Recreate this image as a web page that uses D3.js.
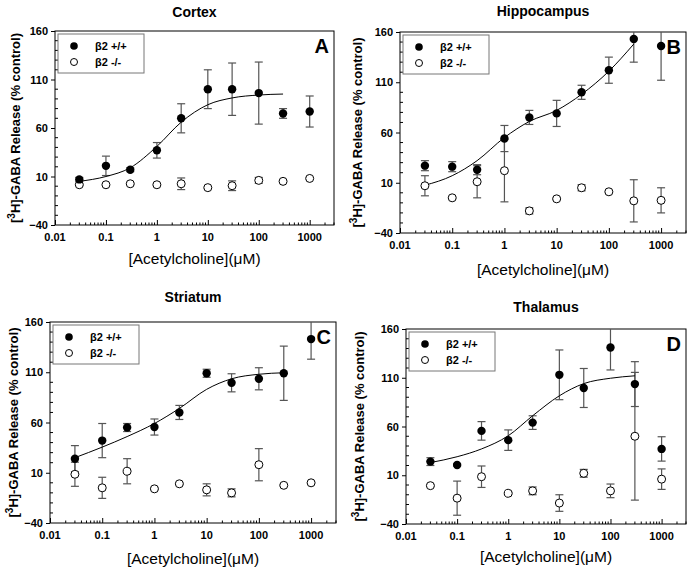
<!DOCTYPE html>
<html>
<head>
<meta charset="utf-8">
<script src="https://cdn.jsdelivr.net/npm/d3@7"></script>
<style>
  body { margin: 0; background: #fff; }
  svg text { font-family: Arial, "Liberation Sans", Helvetica, sans-serif; }
</style>
</head>
<body>
<div id="chart"></div>
<script>
// acetylcholine concentrations (µM)
var conc = [0.03, 0.1, 0.3, 1, 3, 10, 30, 100, 300, 1000];
var fitConc = [0.03, 0.1, 0.3, 1, 3, 10, 30, 100, 300];
var yTicks = [-40, 10, 60, 110, 160];
var xTicks = [0.01, 0.1, 1, 10, 100, 1000];

// Cortex
var cortexWT = [7, 21, 17, 37, 70, 100, 100, 96, 75, 77];
var cortexWTErr = [2, 10, 2, 8, 15, 20, 27, 32, 5, 16];
var cortexKO = [1.5, 1.5, 2.5, 1.5, 2.5, -1.5, 0.5, 6, 5, 8];
var cortexKOErr = [1, 1, 1, 1, 6, 1, 5, 3, 1, 1];
var cortexFit = [5, 10, 19, 41, 66, 84, 91, 94, 95];

// Hippocampus
var hippoWT = [27, 26, 23, 54, 75, 79, 100, 122, 153, 146];
var hippoWTErr = [5, 5, 5, 13, 7, 13, 7, 13, 23, 34];
var hippoKO = [7, -5, 11, 22, -18, -6, 5, 1, -8, -7.5];
var hippoKOErr = [10, 1, 16, 31, 3, 1, 3, 1, 21, 12.5];
var hippoFit = [7.5, 17, 32, 55, 71, 82, 98, 121, 148];

// Striatum
var striWT = [24, 42, 55, 55.5, 70, 109, 99.5, 103.5, 109, 143];
var striWTErr = [13, 17, 4, 8, 7, 4, 9, 11, 27, 20];
var striKO = [8.5, -5, 11.5, -6, -1, -7, -10, 18, -2.5, 0];
var striKOErr = [12, 10.5, 12.5, 1, 1, 6, 4, 16, 1, 1];
var striFit = [25, 35.5, 46, 59, 74, 93, 103.5, 108, 109.5];

// Thalamus
var thalWT = [24, 20.5, 55.5, 46, 64, 113, 99.5, 141, 103.5, 37];
var thalWTErr = [4, 1, 9.5, 10.5, 7, 25.5, 20, 23, 23, 12.5];
var thalKO = [-0.7, -13.5, 8.5, -8.5, -6, -18.5, 12, -6, 50, 6];
var thalKOErr = [1, 17.5, 11, 1, 4, 8.5, 4, 7, 65.5, 10.5];
var thalFit = [23, 29, 37, 50.5, 71, 91.5, 104, 109.5, 112];

var panels = [
  {title: "Cortex", letter: "A", wt: cortexWT, wtErr: cortexWTErr, ko: cortexKO, koErr: cortexKOErr, fit: cortexFit,
   left: 55, right: 334, top: 31, bottom: 225, titleY: 17, xLabelY: 264, yLabelX: 19},
  {title: "Hippocampus", letter: "B", wt: hippoWT, wtErr: hippoWTErr, ko: hippoKO, koErr: hippoKOErr, fit: hippoFit,
   left: 400, right: 686, top: 32, bottom: 233, titleY: 16, xLabelY: 275, yLabelX: 361},
  {title: "Striatum", letter: "C", wt: striWT, wtErr: striWTErr, ko: striKO, koErr: striKOErr, fit: striFit,
   left: 50, right: 336, top: 322, bottom: 523, titleY: 302, xLabelY: 564, yLabelX: 17},
  {title: "Thalamus", letter: "D", wt: thalWT, wtErr: thalWTErr, ko: thalKO, koErr: thalKOErr, fit: thalFit,
   left: 406, right: 686, top: 329, bottom: 524, titleY: 312, xLabelY: 562, yLabelX: 363}
];

var svg = d3.select("#chart").append("svg")
  .attr("width", 688)
  .attr("height", 568);

var errColor = "#555";

panels.forEach(function (p, pi) {
  var x = d3.scaleLog().domain([0.01, 3000]).range([p.left, p.right]);
  var y = d3.scaleLinear().domain([-40, 160]).range([p.bottom, p.top]);
  var g = svg.append("g");

  var clipId = "clip" + pi;
  svg.append("clipPath").attr("id", clipId)
    .append("rect")
    .attr("x", p.left).attr("y", p.top)
    .attr("width", p.right - p.left).attr("height", p.bottom - p.top);

  // minor y ticks (inside)
  g.append("g").selectAll("line")
    .data(d3.range(-30, 160, 10).filter(function (v) { return yTicks.indexOf(v) < 0; }))
    .enter().append("line")
    .attr("x1", p.left).attr("x2", p.left + 3)
    .attr("y1", function (d) { return y(d); }).attr("y2", function (d) { return y(d); })
    .attr("stroke", "#000").attr("stroke-width", 1);

  // y axis (major ticks + labels)
  var yAxis = g.append("g")
    .attr("transform", "translate(" + p.left + ",0)")
    .call(d3.axisLeft(y).tickValues(yTicks).tickSize(4).tickPadding(3).tickFormat(d3.format("d")));
  yAxis.select(".domain").remove();
  yAxis.selectAll("text").style("font-size", "11px").style("font-weight", "bold")
    .style("font-family", "Arial, 'Liberation Sans', sans-serif");

  // x axis minor ticks (inside)
  var minors = [];
  [0.01, 0.1, 1, 10, 100, 1000].forEach(function (dec) {
    for (var k = 2; k <= 9; k++) {
      if (dec * k <= 3000) minors.push(dec * k);
    }
  });
  g.append("g").selectAll("line")
    .data(minors)
    .enter().append("line")
    .attr("x1", function (d) { return x(d); }).attr("x2", function (d) { return x(d); })
    .attr("y1", p.bottom).attr("y2", p.bottom - 2.5)
    .attr("stroke", "#000").attr("stroke-width", 1);

  var xAxis = g.append("g")
    .attr("transform", "translate(0," + p.bottom + ")")
    .call(d3.axisTop(x).tickValues(xTicks).tickSize(5).tickFormat(function (d) { return String(d); }));
  xAxis.select(".domain").remove();
  xAxis.selectAll("text").remove();
  g.append("g").selectAll("text")
    .data(xTicks)
    .enter().append("text")
    .attr("x", function (d) { return x(d); })
    .attr("y", p.bottom + 16)
    .attr("text-anchor", "middle")
    .style("font-size", "11px").style("font-weight", "bold")
    .text(function (d) { return String(d); });

  // frame
  g.append("rect")
    .attr("x", p.left).attr("y", p.top)
    .attr("width", p.right - p.left).attr("height", p.bottom - p.top)
    .attr("fill", "none").attr("stroke", "#000").attr("stroke-width", 1);

  var plot = g.append("g").attr("clip-path", "url(#" + clipId + ")");

  // error bars
  function errorBars(vals, errs) {
    var eb = plot.append("g").selectAll("g")
      .data(conc.map(function (c, i) { return {c: c, v: vals[i], e: errs[i]}; }))
      .enter().append("g")
      .attr("stroke", errColor).attr("stroke-width", 1.2);
    eb.append("line")
      .attr("x1", function (d) { return x(d.c); }).attr("x2", function (d) { return x(d.c); })
      .attr("y1", function (d) { return y(d.v + d.e); }).attr("y2", function (d) { return y(d.v - d.e); });
    eb.append("line")
      .attr("x1", function (d) { return x(d.c) - 4; }).attr("x2", function (d) { return x(d.c) + 4; })
      .attr("y1", function (d) { return y(d.v + d.e); }).attr("y2", function (d) { return y(d.v + d.e); });
    eb.append("line")
      .attr("x1", function (d) { return x(d.c) - 4; }).attr("x2", function (d) { return x(d.c) + 4; })
      .attr("y1", function (d) { return y(d.v - d.e); }).attr("y2", function (d) { return y(d.v - d.e); });
  }
  errorBars(p.ko, p.koErr);
  errorBars(p.wt, p.wtErr);

  // fitted curve
  var line = d3.line()
    .x(function (d) { return x(d[0]); })
    .y(function (d) { return y(d[1]); })
    .curve(d3.curveMonotoneX);
  plot.append("path")
    .datum(fitConc.map(function (c, i) { return [c, p.fit[i]]; }))
    .attr("d", line)
    .attr("fill", "none").attr("stroke", "#000").attr("stroke-width", 1);

  // markers
  plot.append("g").selectAll("circle")
    .data(conc.map(function (c, i) { return [c, p.ko[i]]; }))
    .enter().append("circle")
    .attr("cx", function (d) { return x(d[0]); }).attr("cy", function (d) { return y(d[1]); })
    .attr("r", 4).attr("fill", "#fff").attr("stroke", "#000").attr("stroke-width", 1);
  plot.append("g").selectAll("circle")
    .data(conc.map(function (c, i) { return [c, p.wt[i]]; }))
    .enter().append("circle")
    .attr("cx", function (d) { return x(d[0]); }).attr("cy", function (d) { return y(d[1]); })
    .attr("r", 4.2).attr("fill", "#000");

  // legend
  var lg = g.append("g").attr("transform", "translate(" + (p.left + 3) + "," + (p.top + 3) + ")");
  lg.append("rect").attr("width", 86).attr("height", 39)
    .attr("fill", "#fff").attr("stroke", "#777").attr("stroke-width", 1);
  lg.append("circle").attr("cx", 16).attr("cy", 12).attr("r", 3.8).attr("fill", "#000");
  lg.append("circle").attr("cx", 16).attr("cy", 28).attr("r", 3.5).attr("fill", "#fff")
    .attr("stroke", "#000").attr("stroke-width", 1);
  lg.append("text").attr("x", 37).attr("y", 16).style("font-size", "11px").style("font-weight", "bold").text("β2 +/+");
  lg.append("text").attr("x", 37).attr("y", 32).style("font-size", "11px").style("font-weight", "bold").text("β2 -/-");

  // panel letter
  g.append("text")
    .attr("x", p.right - 5).attr("y", p.top + 22)
    .attr("text-anchor", "end")
    .style("font-size", "20px").style("font-weight", "bold")
    .text(p.letter);

  // title
  g.append("text")
    .attr("x", (p.left + p.right) / 2).attr("y", p.titleY)
    .attr("text-anchor", "middle")
    .style("font-size", "14px").style("font-weight", "bold")
    .text(p.title);

  // x label
  g.append("text")
    .attr("x", (p.left + p.right) / 2).attr("y", p.xLabelY)
    .attr("text-anchor", "middle")
    .style("font-size", "15.5px")
    .text("[Acetylcholine](μM)");

  // y label
  var yl = g.append("text")
    .attr("transform", "translate(" + (p.yLabelX + 1) + "," + ((p.top + p.bottom) / 2) + ") rotate(-90)")
    .attr("text-anchor", "middle")
    .style("font-size", "13px").style("font-weight", "bold");
  yl.append("tspan").text("[");
  yl.append("tspan").attr("dy", -5).style("font-size", "10px").text("3");
  yl.append("tspan").attr("dy", 5).text("H]-GABA Release (% control)");
});
</script>
</body>
</html>
